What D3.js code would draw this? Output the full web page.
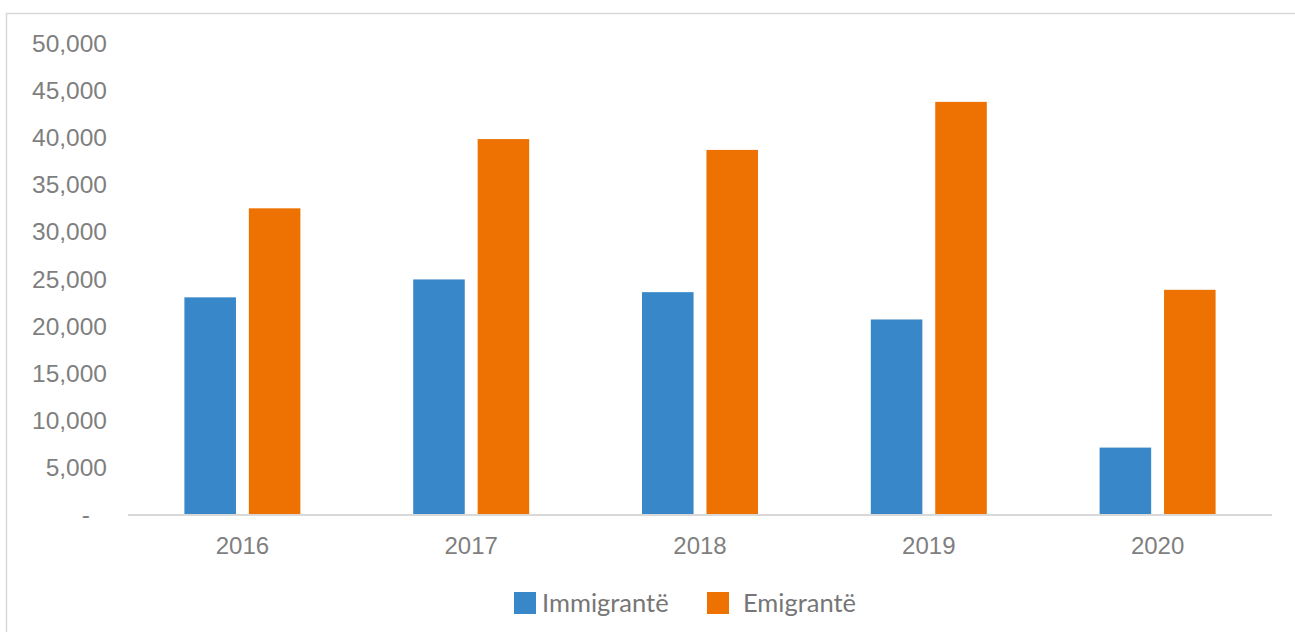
<!DOCTYPE html>
<html><head><meta charset="utf-8">
<script src="https://cdn.jsdelivr.net/npm/d3@7"></script>
<style>body{margin:0;background:#fff}svg{display:block}</style>
</head><body>
<svg id="c" width="1295" height="632"></svg>
<script>
const years = ["2016","2017","2018","2019","2020"];
const immigrants = [23000, 24900, 23550, 20650, 7050];
const emigrants = [32450, 39800, 38650, 43750, 23800];
const seriesNames = ["Immigrantë","Emigrantë"];
const seriesColors = ["#3887C8","#EE7202"];
const yTicks = [0,5000,10000,15000,20000,25000,30000,35000,40000,45000,50000];

const svg = d3.select("#c");
svg.append("rect").attr("x",6.5).attr("y",13.5).attr("width",1320).attr("height",650)
  .attr("fill","#fff").attr("stroke","#d9d9d9").attr("stroke-width",1.5);

const x = d3.scaleBand().domain(years).range([128,1272]).paddingInner(0).paddingOuter(0);
const y = d3.scaleLinear().domain([0,50000]).range([514,43]);
const xs = d3.scaleBand().domain(seriesNames).range([x.bandwidth()/2-58, x.bandwidth()/2+58]).paddingInner(0.2);

const data = years.map((yr,i)=>({year:yr, vals:[immigrants[i], emigrants[i]]}));
const g = svg.append("g");
const grp = g.selectAll("g.cat").data(data).join("g").attr("transform",d=>`translate(${x(d.year)},0)`);
grp.selectAll("rect").data(d=>d.vals.map((v,j)=>({v, s:seriesNames[j], c:seriesColors[j]})))
  .join("rect")
  .attr("x",d=>xs(d.s)).attr("width",xs.bandwidth())
  .attr("y",d=>y(d.v)).attr("height",d=>y(0)-y(d.v))
  .attr("fill",d=>d.c);

// y axis
const yAxis = svg.append("g").attr("transform","translate(107,0)")
  .call(d3.axisLeft(y).tickValues(yTicks).tickSize(0).tickPadding(0)
    .tickFormat(d=> d===0 ? "-" : d3.format(",")(d)));
yAxis.select(".domain").remove();
yAxis.selectAll("text").attr("font-family","Liberation Sans, Arial, sans-serif").attr("font-size",24.5)
  .attr("fill","#7f7f7f").attr("dy","0.35em");
yAxis.selectAll(".tick").filter(d=>d===0).select("text").attr("dx",-17);

// x axis
const xAxis = svg.append("g").attr("transform",`translate(0,${y(0)+1})`)
  .call(d3.axisBottom(x).tickSize(0).tickPadding(0));
xAxis.select(".domain").attr("stroke","#d9d9d9").attr("stroke-width",2).attr("d","M128,0H1272");
xAxis.selectAll("text").attr("font-family","Liberation Sans, Arial, sans-serif").attr("font-size",24)
  .attr("fill","#7f7f7f").attr("y",31).attr("dy","0.35em");

// legend
const leg = svg.append("g");
const legX = [514, 707];
const legText = [542, 743];
seriesNames.forEach((s,i)=>{
  leg.append("rect").attr("x",legX[i]).attr("y",592).attr("width",22).attr("height",22).attr("fill",seriesColors[i]);
  leg.append("text").attr("x",legText[i]).attr("y",603).attr("dy","0.35em")
    .attr("font-family","Lato, sans-serif").attr("font-size",25.5).attr("fill","#767676").text(s);
});
</script>
</body></html>
